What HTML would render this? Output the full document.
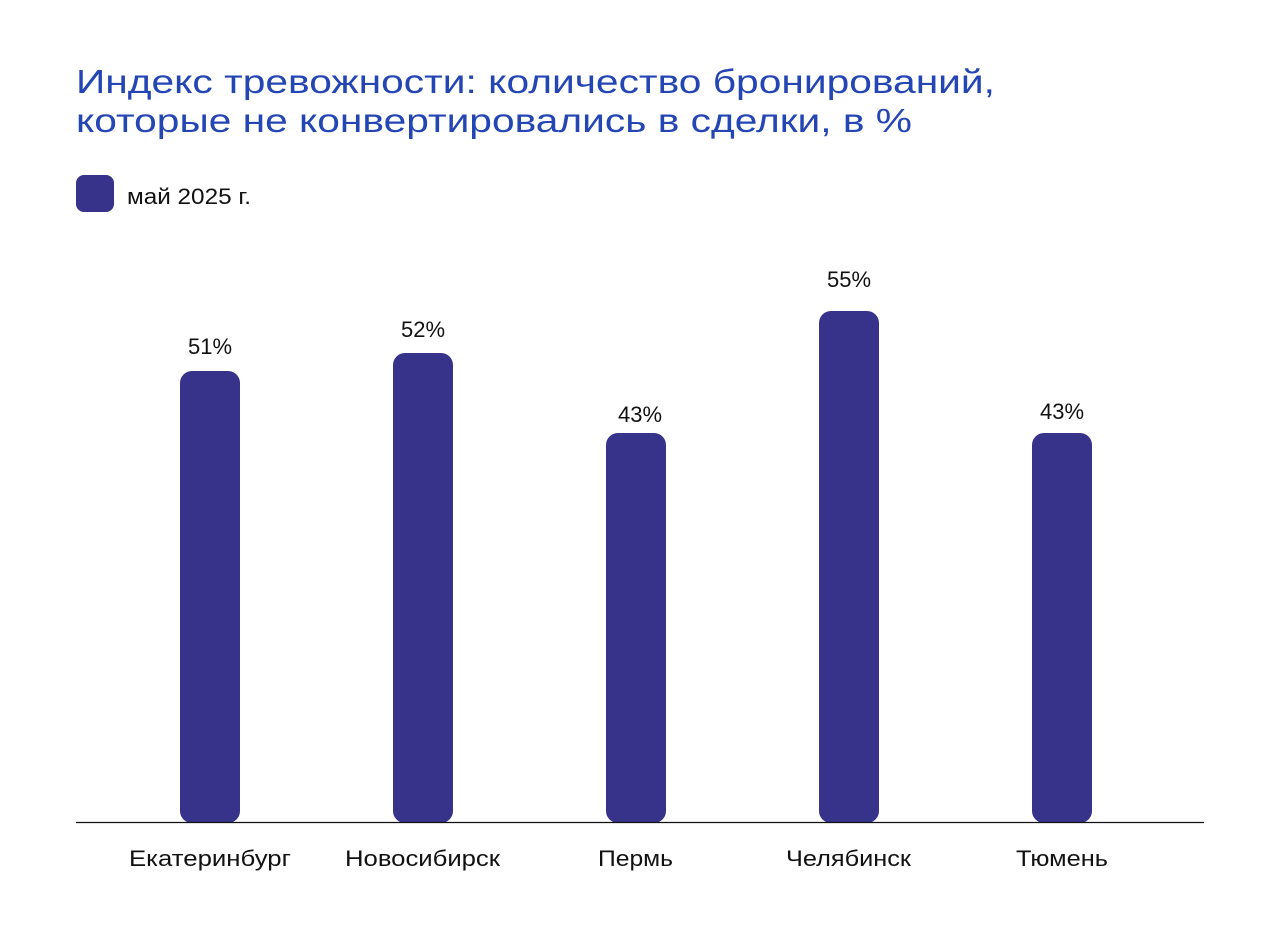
<!DOCTYPE html>
<html><head><meta charset="utf-8"><style>
html,body{margin:0;padding:0;background:#fff;}
svg{display:block;font-family:"Liberation Sans",sans-serif;}
</style></head><body>
<svg width="1280" height="940" viewBox="0 0 1280 940" xmlns="http://www.w3.org/2000/svg">
<rect width="1280" height="940" fill="#fff"/>
<g fill="#2446b4" font-size="33">
<text x="76" y="93" textLength="919" lengthAdjust="spacingAndGlyphs">Индекс тревожности: количество бронирований,</text>
<text x="76" y="132" textLength="836" lengthAdjust="spacingAndGlyphs">которые не конвертировались в сделки, в %</text>
</g>
<rect x="76" y="175" width="38" height="37" rx="8" fill="#38338a"/>
<text x="127" y="204" font-size="22" fill="#111" textLength="124" lengthAdjust="spacingAndGlyphs">май 2025 г.</text>
<g fill="#38338a">
<rect x="180" y="371" width="60" height="452" rx="12"/>
<rect x="393" y="353" width="60" height="470" rx="12"/>
<rect x="606" y="433" width="60" height="390" rx="12"/>
<rect x="819" y="311" width="60" height="512" rx="12"/>
<rect x="1032" y="433" width="60" height="390" rx="12"/>
</g>
<line x1="76" y1="822.5" x2="1204" y2="822.5" stroke="#111" stroke-width="1.3"/>
<g font-size="22" fill="#111" text-anchor="middle">
<text x="210" y="354">51%</text>
<text x="423" y="337">52%</text>
<text x="640" y="422">43%</text>
<text x="849" y="287">55%</text>
<text x="1062" y="419">43%</text>
</g>
<g font-size="22" fill="#111">
<text x="129" y="866" textLength="162" lengthAdjust="spacingAndGlyphs">Екатеринбург</text>
<text x="345" y="866" textLength="155" lengthAdjust="spacingAndGlyphs">Новосибирск</text>
<text x="598" y="866" textLength="75" lengthAdjust="spacingAndGlyphs">Пермь</text>
<text x="786" y="866" textLength="125" lengthAdjust="spacingAndGlyphs">Челябинск</text>
<text x="1016" y="866" textLength="92" lengthAdjust="spacingAndGlyphs">Тюмень</text>
</g>
</svg>
</body></html>
